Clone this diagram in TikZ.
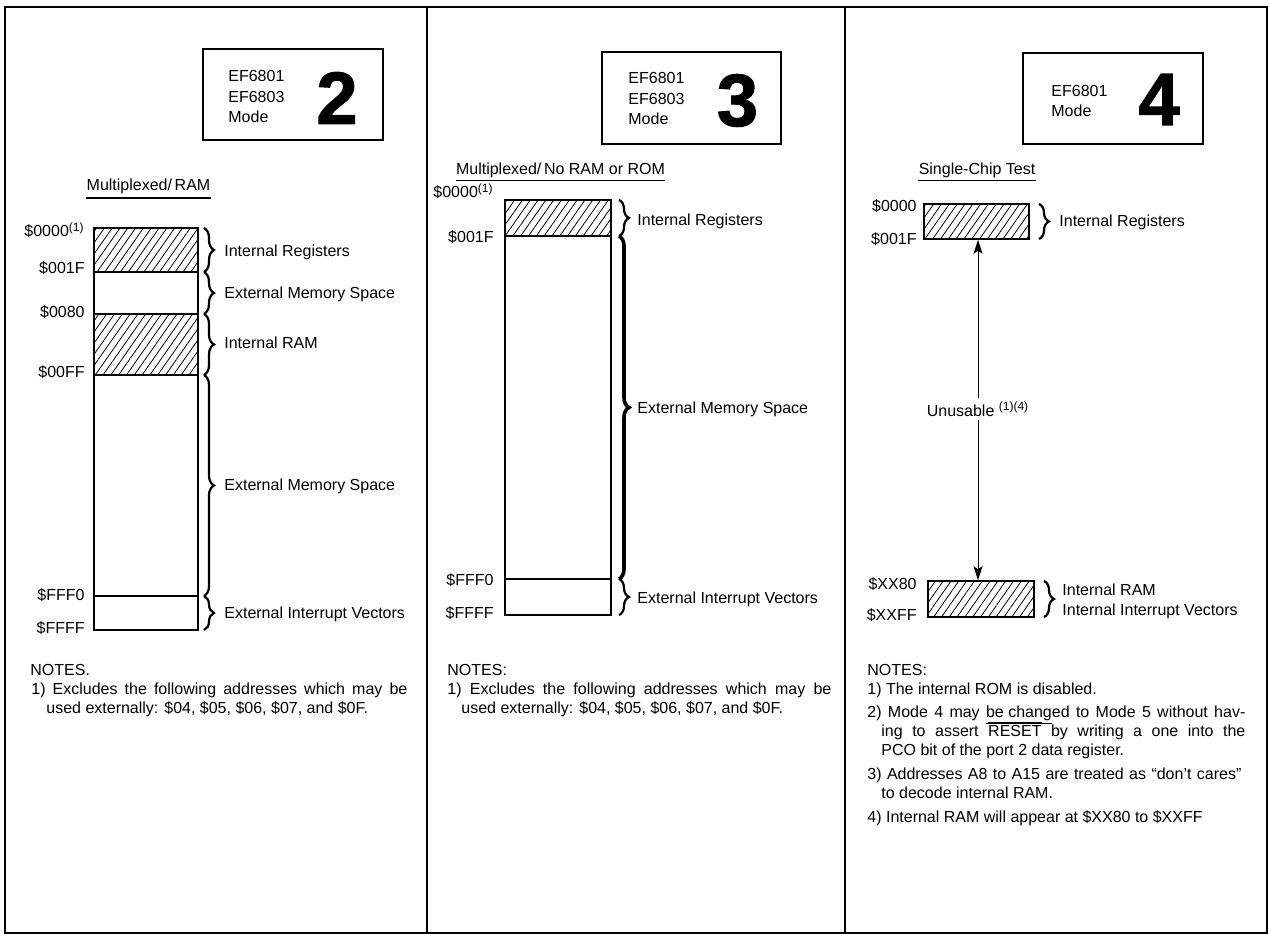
\documentclass[tikz,border=0pt]{standalone}
\usepackage{fontspec}
\setmainfont{Liberation Sans}
\newfontfamily\heavyfont{Liberation Sans}[BoldFeatures={FakeBold=1.5}]
\usetikzlibrary{patterns.meta,decorations.pathreplacing,arrows.meta}
\newcommand\mysz{\fontsize{8}{9.6}\selectfont}
\tikzset{
  frame/.style={line width=1pt},
  bar/.style={draw, line width=0.75pt},
  hatch/.style={pattern={Lines[angle=55,distance=3.2pt,line width=0.4pt]}},
  addr/.style={anchor=base east, inner sep=0pt, font=\mysz},
  lbl/.style={anchor=base west, inner sep=0pt, font=\mysz},
  note/.style={anchor=base west, inner sep=0pt, font=\mysz},
  br/.style={decorate, decoration={brace, amplitude=5pt}, line width=1.1pt},
  brthick/.style={decorate, decoration={brace, amplitude=5pt}, line width=1.8pt},
  titlebox/.style={draw, line width=0.9pt, inner sep=0pt},
  boxtxt/.style={anchor=base west, inner sep=0pt, font=\mysz},
  bigdigit/.style={inner sep=0pt, font=\fontsize{37}{37}\selectfont\heavyfont\bfseries},
  ttl/.style={anchor=base, inner sep=0pt, font=\mysz},
  ul/.style={line width=0.6pt},
  arr/.style={-{Stealth[length=7pt,width=4.5pt,inset=1.5pt]}, line width=0.5pt},
}
\begin{document}
\begin{tikzpicture}[x=0.5pt,y=-0.5pt]
\useasboundingbox (0,0) rectangle (1269,935);
% frame
\draw[frame] (5,7) rectangle (1267,933);
\draw[frame] (427,7) -- (427,933);
\draw[frame] (845,7) -- (845,933);

% ================= Panel 1 =================
\node[titlebox, minimum width=90pt, minimum height=45.5pt] (tb2) at (293,94.5) {};
\node[boxtxt] (tb2a) at (228,82) {EF6801};
\node[boxtxt] (tb2b) at (228,103) {EF6803};
\node[boxtxt] (tb2c) at (228,123) {Mode};
\node[bigdigit] (tb2n) at (337,98) {2};

\node[ttl] (ttl2) at (148.5,191) {Multiplexed/\,RAM};
\draw[ul] ([yshift=-3.5pt]ttl2.base west) -- ([yshift=-3.5pt]ttl2.base east);

\draw[bar,hatch] (94,228) rectangle (198,272);
\draw[bar] (94,272) rectangle (198,314);
\draw[bar,hatch] (94,314) rectangle (198,375);
\draw[bar] (94,375) rectangle (198,596);
\draw[bar] (94,596) rectangle (198,630);

\node[addr] (a2a) at (85,237) {\$0000\textsuperscript{(1)}};
\node[addr] (a2b) at (85,274) {\$001F};
\node[addr] (a2c) at (85,318) {\$0080};
\node[addr] (a2d) at (85,378) {\$00FF};
\node[addr] (a2e) at (85,600) {\$FFF0};
\node[addr] (a2f) at (85,633) {\$FFFF};

\draw[br] (204,228) -- (204,272);
\draw[br] (204,272) -- (204,314);
\draw[br] (204,314) -- (204,375);
\draw[br] (204,375) -- (204,596);
\draw[br] (204,596) -- (204,630);

\node[lbl] (l2a) at (224,257) {Internal Registers};
\node[lbl] (l2b) at (224,299) {External Memory Space};
\node[lbl] (l2c) at (224,349) {Internal RAM};
\node[lbl] (l2d) at (224,491) {External Memory Space};
\node[lbl] (l2e) at (224,618) {External Interrupt Vectors};

\node[note] (n2h) at (30,675) {NOTES.};
\node[note] (n2a) at (31,694) {\makebox[188pt][s]{1) Excludes the following addresses which may be}};
\node[note] (n2b) at (46,713) {used externally: \$04, \$05, \$06, \$07, and \$0F.};

% ================= Panel 2 =================
\node[titlebox, minimum width=89.5pt, minimum height=46pt] (tb3) at (691.5,98) {};
\node[boxtxt] (tb3a) at (628,84) {EF6801};
\node[boxtxt] (tb3b) at (628,105) {EF6803};
\node[boxtxt] (tb3c) at (628,125) {Mode};
\node[bigdigit] (tb3n) at (737.5,100.5) {3};

\node[ttl] (ttl3) at (560.5,175) {Multiplexed/\,No RAM or ROM};
\draw[ul] ([yshift=-2.6pt]ttl3.base west) -- ([yshift=-2.6pt]ttl3.base east);

\draw[bar,hatch] (505,200) rectangle (611,236);
\draw[bar] (505,236) rectangle (611,579);
\draw[bar] (505,579) rectangle (611,615);

\node[addr] (a3a) at (494,198) {\$0000\textsuperscript{(1)}};
\node[addr] (a3b) at (494,243) {\$001F};
\node[addr] (a3e) at (494,585) {\$FFF0};
\node[addr] (a3f) at (494,618) {\$FFFF};

\draw[br] (619,200) -- (619,236);
\draw[brthick] (619,236) -- (619,579);
\draw[br] (619,579) -- (619,615);

\node[lbl] (l3a) at (637,226) {Internal Registers};
\node[lbl] (l3b) at (637,414) {External Memory Space};
\node[lbl] (l3c) at (637,603) {External Interrupt Vectors};

\node[note] (n3h) at (447,675) {NOTES:};
\node[note] (n3a) at (447,694) {\makebox[192pt][s]{1) Excludes the following addresses which may be}};
\node[note] (n3b) at (461,713) {used externally: \$04, \$05, \$06, \$07, and \$0F.};

% ================= Panel 3 =================
\node[titlebox, minimum width=90pt, minimum height=45.5pt] (tb4) at (1113,98.5) {};
\node[boxtxt] (tb4a) at (1051,97) {EF6801};
\node[boxtxt] (tb4b) at (1051,117) {Mode};
\node[bigdigit] (tb4n) at (1159,99.5) {4};

\node[ttl] (ttl4) at (977,175) {Single-Chip Test};
\draw[ul] ([yshift=-2.6pt]ttl4.base west) -- ([yshift=-2.6pt]ttl4.base east);

\node[bar,hatch,inner sep=0pt,minimum width=52.5pt,minimum height=17.5pt] (reg4) at (976.5,221.5) {};
\node[bar,hatch,inner sep=0pt,minimum width=53pt,minimum height=18pt] (ram4) at (981,599) {};

\node[addr] (a4a) at (917,212) {\$0000};
\node[addr] (a4b) at (917,245) {\$001F};
\node[addr] (a4c) at (917,589) {\$XX80};
\node[addr] (a4d) at (917,620) {\$XXFF};

\draw[br] (1039,204) -- (1039,239);
\draw[br] (1044,581) -- (1044,617);

\node[lbl] (l4a) at (1059,227) {Internal Registers};
\node[lbl] (l4b) at (1062,595) {Internal RAM};
\node[lbl] (l4c) at (1062,615) {Internal Interrupt Vectors};

\node[inner sep=1.5pt, font=\mysz] (un) at (978,409) {Unusable \textsuperscript{(1)(4)}};
\draw[arr] (un.north) -- (un.north |- reg4.south);
\draw[arr] (un.south) -- (un.south |- ram4.north);

\node[note] (n4h) at (867,675) {NOTES:};
\node[note] (n4a) at (867,694) {1) The internal ROM is disabled.};
\node[note] (n4b) at (867,717) {\makebox[189pt][s]{2) Mode 4 may \underline{be chang}ed to Mode 5 without hav-}};
\node[note] (n4c) at (881,736) {\makebox[182pt][s]{ing to assert $\overline{\mbox{RESET}}$ by writing a one into the}};
\node[note] (n4d) at (881,755) {PCO bit of the port 2 data register.};
\node[note] (n4e) at (867,779) {\makebox[187pt][s]{3) Addresses A8 to A15 are treated as ``don't cares''}};
\node[note] (n4f) at (881,798) {to decode internal RAM.};
\node[note] (n4g) at (867,822) {4) Internal RAM will appear at \$XX80 to \$XXFF};
\end{tikzpicture}
\end{document}
